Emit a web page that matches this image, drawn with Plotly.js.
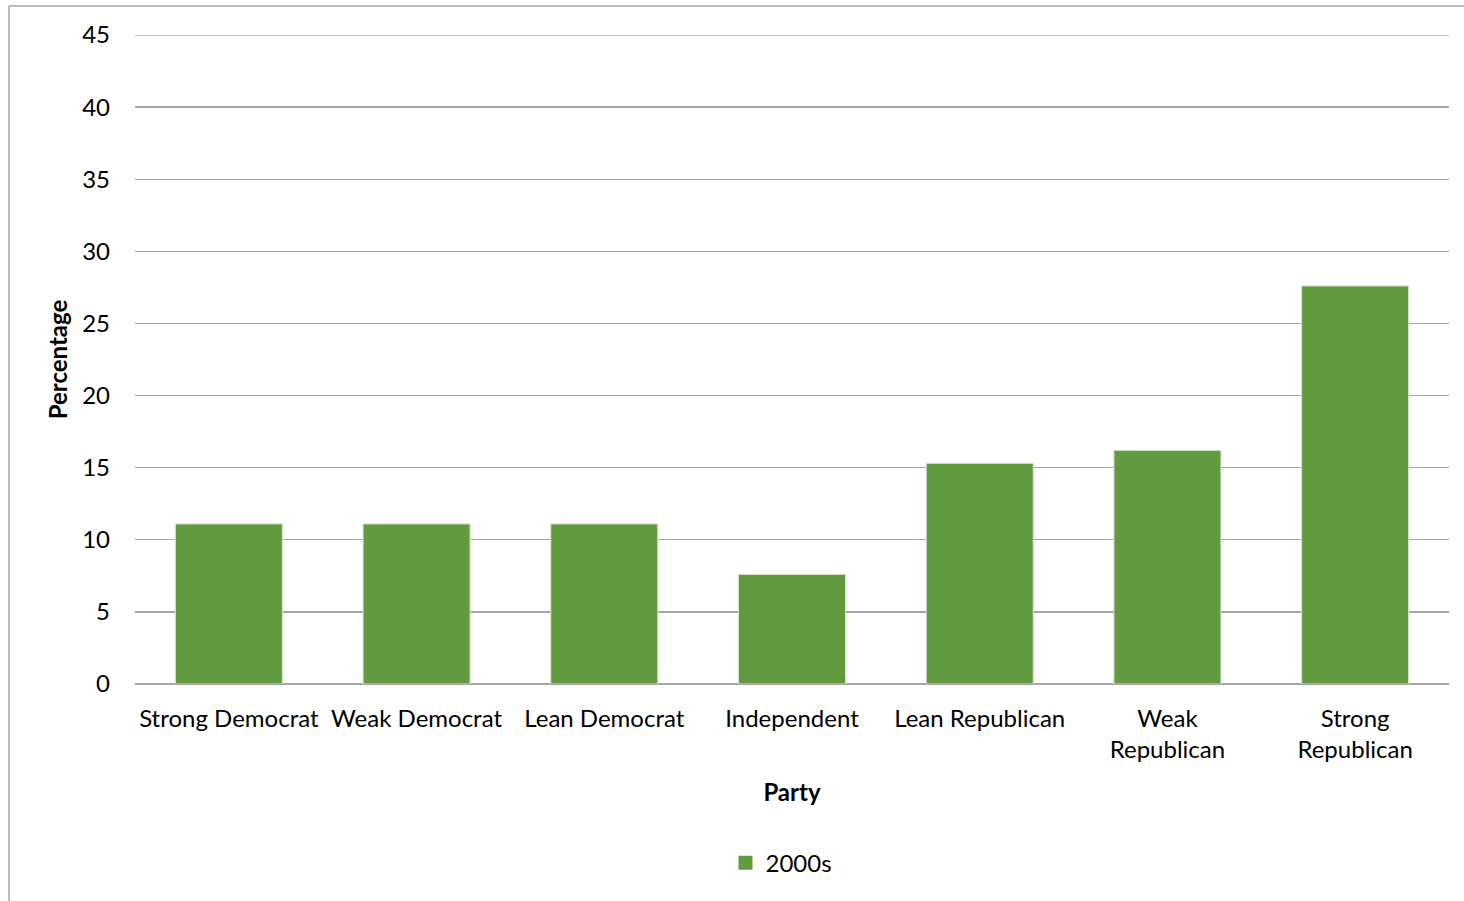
<!DOCTYPE html>
<html>
<head>
<meta charset="utf-8">
<script src="https://cdn.plot.ly/plotly-3.0.1.min.js"></script>
<style>
  html, body { margin: 0; padding: 0; background: #ffffff; }
  #chart { width: 1464px; height: 901px; }
</style>
</head>
<body>
<div id="chart"></div>
<script>
// Party identification shares in the 2000s
const categories = [
  'Strong Democrat', 'Weak Democrat', 'Lean Democrat', 'Independent',
  'Lean Republican', 'Weak<br>Republican', 'Strong<br>Republican'
];
const seriesName = '2000s';
const values = [11.1, 11.1, 11.1, 7.6, 15.3, 16.2, 27.6];
const yTicks = [0, 5, 10, 15, 20, 25, 30, 35, 40, 45];

const FONT = 'Lato, "Open Sans", sans-serif';
const GREEN = '#629a3f';
const GRID = '#a6a6a6';
const yMax = yTicks[yTicks.length - 1];

const bars = {
  type: 'bar',
  x: categories,
  y: values,
  name: seriesName,
  showlegend: false,
  marker: { color: GREEN, line: { color: '#d6e4cc', width: 1 } },
  hoverinfo: 'x+y'
};

// legend key drawn as a square swatch
const legendKey = {
  type: 'scatter',
  mode: 'markers',
  x: [null],
  y: [null],
  name: seriesName,
  marker: { symbol: 'square', size: 14, color: GREEN },
  showlegend: true
};

const layout = {
  width: 1464,
  height: 901,
  paper_bgcolor: '#ffffff',
  plot_bgcolor: '#ffffff',
  margin: { l: 135, r: 15, t: 35, b: 217 },
  bargap: 0.43,
  font: { family: FONT, color: '#000000', size: 24 },
  xaxis: {
    type: 'category',
    showgrid: false,
    showline: false,
    zeroline: false,
    ticks: '',
    tickfont: { family: FONT, size: 24, color: '#000000' },
    ticklabelstandoff: 18,
    title: { text: '<b>Party</b>', font: { family: FONT, size: 24 }, standoff: 21 }
  },
  yaxis: {
    range: [0, yMax],
    tickvals: yTicks,
    ticktext: yTicks.map(String),
    showgrid: true,
    gridcolor: GRID,
    gridwidth: 1.3,
    zeroline: true,
    zerolinecolor: GRID,
    zerolinewidth: 1.3,
    showline: false,
    ticks: '',
    tickfont: { family: FONT, size: 24, color: '#000000' },
    ticklabelstandoff: 24,
    title: { text: '<b>Percentage</b>', font: { family: FONT, size: 24 }, standoff: 7 }
  },
  showlegend: true,
  legend: {
    orientation: 'h',
    x: 0.492,
    xanchor: 'center',
    y: -0.276,
    yanchor: 'middle',
    font: { family: FONT, size: 24, color: '#000000' },
    itemwidth: 30
  },
  shapes: [
    // top gridline at the axis maximum
    { type: 'line', xref: 'paper', yref: 'y',
      x0: 0, x1: 1, y0: yMax, y1: yMax,
      line: { color: GRID, width: 1.3 } },
    // chart frame: top and left edges
    { type: 'line', xref: 'paper', yref: 'paper',
      x0: -126 / 1314, x1: 1.02, y0: 1 + 29 / 649, y1: 1 + 29 / 649,
      line: { color: '#a6a6a6', width: 1.5 } },
    { type: 'line', xref: 'paper', yref: 'paper',
      x0: -126 / 1314, x1: -126 / 1314, y0: 1 + 29 / 649, y1: -0.4,
      line: { color: '#a6a6a6', width: 1.5 } }
  ]
};

Plotly.newPlot('chart', [bars, legendKey], layout, { displayModeBar: false, staticPlot: true });
</script>
</body>
</html>
